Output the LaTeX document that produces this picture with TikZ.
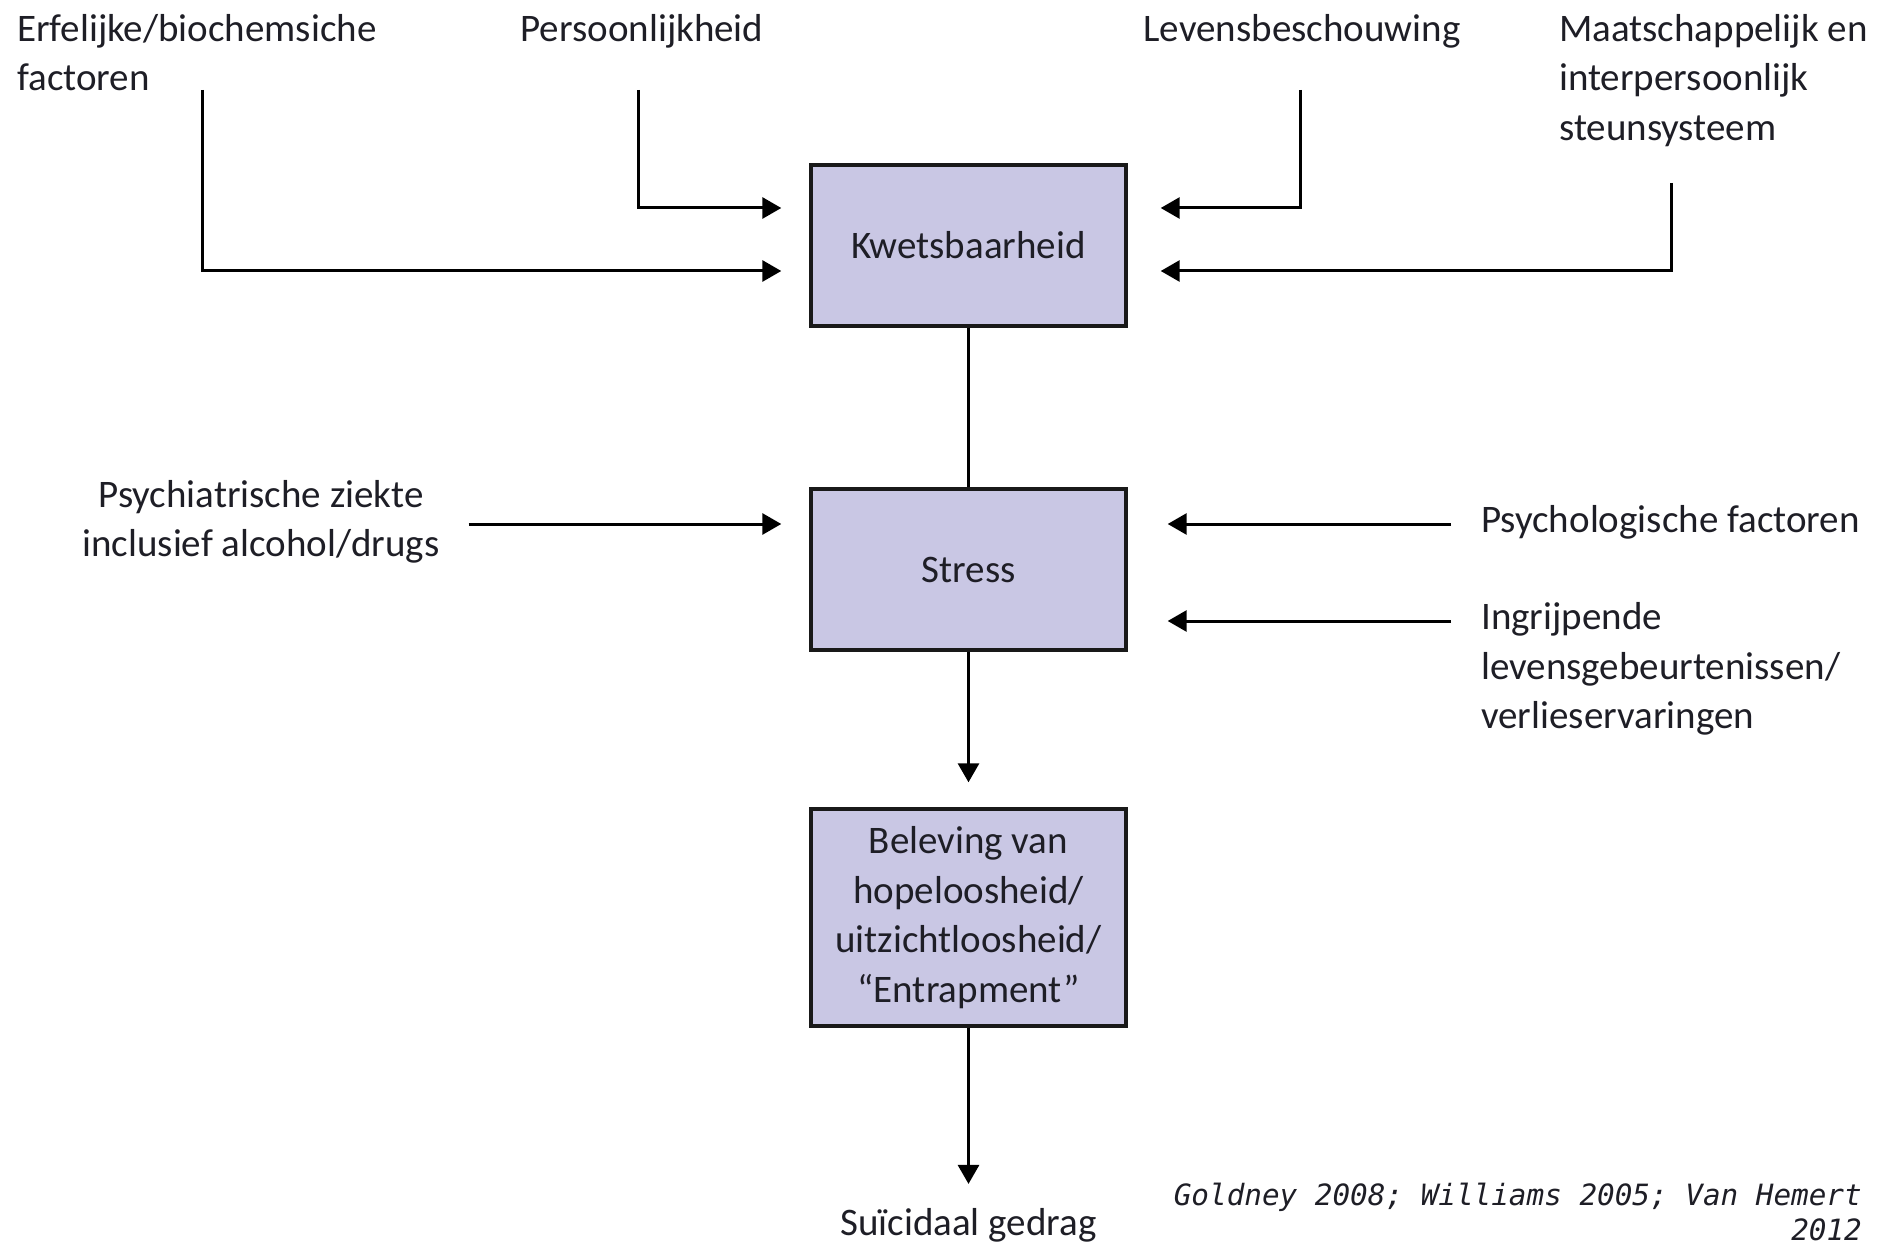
\documentclass[tikz,border=0pt]{standalone}
\usepackage{fontspec}
\setmainfont{Carlito}
\newfontfamily\citefont{DejaVu Sans Mono}
\usetikzlibrary{arrows.meta,calc}

\definecolor{boxfill}{RGB}{201,199,228}
\definecolor{ink}{RGB}{30,30,38}

\tikzset{
  stagebox/.style={draw=black!90, line width=3.4pt, fill=boxfill, minimum width=315pt,
    align=center, inner sep=0pt, text=ink},
  lbl/.style={inner sep=0pt, text=ink},
  flow/.style={line width=3pt, -{Triangle[length=19pt,width=21pt]}},
  link/.style={line width=3pt},
}

\begin{document}
\begin{tikzpicture}[x=1pt,y=-1pt,
  every node/.style={font=\fontsize{39}{49.5}\selectfont}]
  \useasboundingbox[fill=white] (0,0) rectangle (1888,1246);

  % central chain
  \node[stagebox, minimum height=161pt] (kw) at (968.5,245.5) {Kwetsbaarheid};
  \node[stagebox, minimum height=161pt] (st) at (968.5,569.5) {Stress};
  \node[stagebox, minimum height=217pt] (bel) at (968.5,917.5)
    {Beleving van\\hopeloosheid/\\uitzichtloosheid/\\``Entrapment''};
  \node[lbl] (sui) at (968.5,1225) {Suïcidaal gedrag};

  % factors acting on vulnerability
  \node[lbl, anchor=north west, align=left] (erf) at (17,14) {Erfelijke/biochemsiche\\factoren};
  \node[lbl, anchor=north] (pers) at (642,14) {Persoonlijkheid};
  \node[lbl, anchor=north] (lev) at (1302,14) {Levensbeschouwing};
  \node[lbl, anchor=north west, align=left] (maat) at (1559,14)
    {Maatschappelijk en\\interpersoonlijk\\steunsysteem};

  % factors acting on stress
  \node[lbl, align=center] (psy) at (261,522) {Psychiatrische ziekte\\inclusief alcohol/drugs};
  \node[lbl, anchor=west] (psl) at (1481,522) {Psychologische factoren};
  \node[lbl, anchor=west, align=left] (ing) at (1481,669)
    {Ingrijpende\\levensgebeurtenissen/\\verlieservaringen};

  % source
  \node[lbl, anchor=north east, align=right, font=\citefont\itshape\fontsize{29.3}{35}\selectfont]
    (src) at (1862,1183) {Goldney 2008; Williams 2005; Van Hemert\\2012};

  % line origins below the top labels
  \coordinate (erfS) at (202,90);
  \coordinate (persS) at (638,90);
  \coordinate (levS) at (1300,90);
  \coordinate (maatS) at (1671,183);

  % arrow ends beside the boxes
  \coordinate (kwL1) at ($(kw.west)+(-28,-37.5)$);
  \coordinate (kwL2) at ($(kw.west)+(-28,25.5)$);
  \coordinate (kwR1) at ($(kw.east)+(33,-37.5)$);
  \coordinate (kwR2) at ($(kw.east)+(33,25.5)$);
  \coordinate (stL) at ($(st.west)+(-28,-45.5)$);
  \coordinate (stR1) at ($(st.east)+(40,-45.5)$);
  \coordinate (stR2) at ($(st.east)+(40,51.5)$);

  \draw[flow] (erfS) |- (kwL2);
  \draw[flow] (persS) |- (kwL1);
  \draw[flow] (levS) |- (kwR1);
  \draw[flow] (maatS) |- (kwR2);

  \draw[flow] ([xshift=29pt]psy.east |- stL) -- (stL);
  \draw[flow] ([xshift=-30pt]psl.west |- stR1) -- (stR1);
  \draw[flow] ([xshift=-30pt]ing.west |- stR2) -- (stR2);

  \draw[link] (kw.south) -- (st.north);
  \draw[flow] (st.south) -- ([yshift=25pt]bel.north);
  \draw[flow] (bel.south) -- ([yshift=24pt]sui.north);
\end{tikzpicture}
\end{document}
